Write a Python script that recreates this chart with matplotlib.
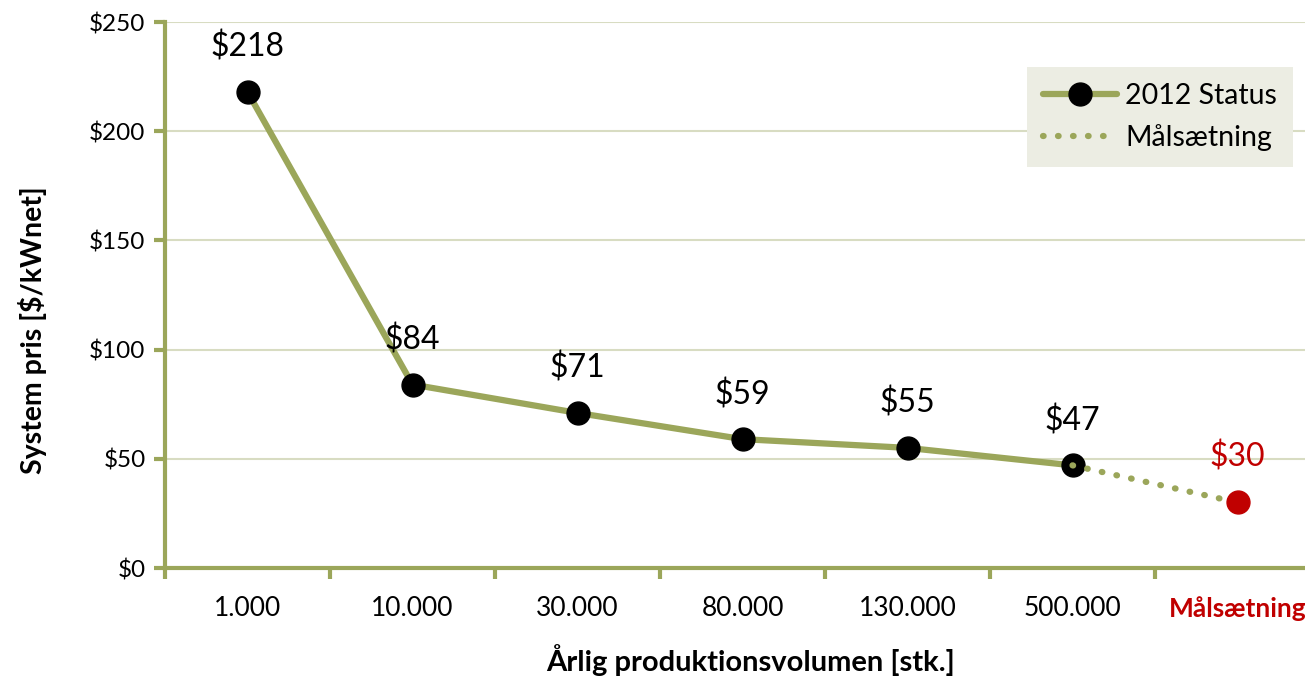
import matplotlib.pyplot as plt
from matplotlib.lines import Line2D

plt.rcParams['font.family'] = ['Lato', 'DejaVu Sans']

categories = ["1.000", "10.000", "30.000", "80.000", "130.000", "500.000", "Målsætning"]
status = [218, 84, 71, 59, 55, 47]
target = 30
olive = "#9BA65A"
red = "#C00000"

fig = plt.figure(figsize=(13.05, 6.78), dpi=100)
W, H = 1305, 678
# plot area runs past the right edge of the picture, like the source
ax = fig.add_axes([165 / W, 1 - 568 / H, 1155 / W, (568 - 22) / H])

x = list(range(len(categories)))
ax.plot(x[:6], status, color=olive, lw=4.5, zorder=3, solid_capstyle='round')
ax.plot(x[:6], status, 'o', color='black', ms=16.5, zorder=4)
ax.plot([x[5], x[6]], [status[-1], target], color=olive, lw=4.5,
        linestyle=(0, (0.1, 2.3)), dash_capstyle='round', zorder=5)
ax.plot([x[6]], [target], 'o', color=red, ms=16.5, zorder=6)

for xi, v in zip(x[:6], status):
    ax.annotate("$" + str(v), (xi, v), xytext=(0, 32), textcoords='offset points',
                ha='center', va='center', fontsize=23)
ax.annotate("$" + str(target), (x[6], target), xytext=(0, 33), textcoords='offset points',
            ha='center', va='center', fontsize=23, color=red)

ax.set_xlim(-0.5, 6.5)
ax.set_ylim(0, 250)
ax.set_yticks([0, 50, 100, 150, 200, 250])
ax.set_yticklabels(["$0", "$50", "$100", "$150", "$200", "$250"], fontsize=17.5)
ax.yaxis.grid(True, color="#D8DCC2", lw=1.5)
ax.set_axisbelow(True)

ax.set_xticks([i - 0.5 for i in range(7)])
ax.set_xticklabels([])
ax.set_xticks(x, minor=True)
ax.set_xticklabels(categories, minor=True, fontsize=19)
ax.tick_params(axis='x', which='minor', length=0, pad=20)
ax.tick_params(axis='x', which='major', length=8, width=3, color=olive)
ax.tick_params(axis='y', length=8, width=3, color=olive, pad=6)
lab = ax.get_xticklabels(minor=True)[-1]
lab.set_color(red)
lab.set_fontweight('bold')

for s in ['top', 'right']:
    ax.spines[s].set_visible(False)
for s in ['left', 'bottom']:
    ax.spines[s].set_color(olive)
    ax.spines[s].set_linewidth(3)

fig.text(750 / W, 1 - 660 / H, "Årlig produktionsvolumen [stk.]", ha='center', va='center',
         fontsize=21, fontweight='bold')
fig.text(33 / W, 1 - 330 / H, "System pris [$/kWnet]", ha='center', va='center',
         rotation=90, fontsize=20.5, fontweight='bold')

handles = [
    Line2D([], [], color=olive, lw=4.5, marker='o', ms=16.5, mfc='black', mec='black',
           solid_capstyle='round'),
    Line2D([], [], color=olive, lw=4.5, linestyle=(0, (0.1, 2.3)), dash_capstyle='round'),
]
leg = ax.legend(handles, ["2012 Status", "Målsætning"], loc='upper left',
                bbox_to_anchor=(1027 / W, 1 - 67 / H), bbox_transform=fig.transFigure,
                fontsize=20.5, handlelength=2.6, handletextpad=0.3, labelspacing=0.55,
                borderpad=0.55, borderaxespad=0, fancybox=False, framealpha=1)
leg.get_frame().set_facecolor("#ECEDE3")
leg.get_frame().set_edgecolor("none")

fig.savefig("out.png", dpi=100)
